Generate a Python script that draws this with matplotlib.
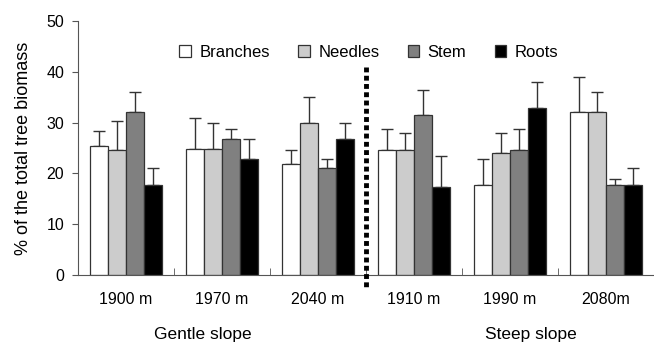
import numpy as np
import matplotlib
matplotlib.use("Agg")
import matplotlib.pyplot as plt

plt.rcParams['font.family'] = ['Liberation Sans', 'DejaVu Sans']

# Data
sites = ['1900 m', '1970 m', '2040 m', '1910 m', '1990 m', '2080m']
components = ['Branches', 'Needles', 'Stem', 'Roots']
colors = ['white', '#cccccc', '#808080', 'black']

branches = [25.4, 24.9, 21.8, 24.7, 17.7, 32.0]
needles = [24.6, 24.9, 29.9, 24.7, 24.0, 32.0]
stem = [32.1, 26.8, 21.0, 31.5, 24.7, 17.7]
roots = [17.7, 22.9, 26.8, 17.3, 32.8, 17.7]

branches_err = [2.9, 6.1, 2.9, 4.0, 5.2, 7.0]
needles_err = [5.7, 5.1, 5.1, 3.3, 4.0, 4.1]
stem_err = [3.9, 1.9, 1.9, 5.0, 4.0, 1.1]
roots_err = [3.3, 3.9, 3.1, 6.1, 5.1, 3.3]

values = [branches, needles, stem, roots]
errors = [branches_err, needles_err, stem_err, roots_err]

fig = plt.figure(figsize=(6.54, 3.46), dpi=100)
ax = fig.add_axes([78 / 654, 1 - 275 / 346, 1 - 78 / 654, (275 - 21) / 346])

x = np.arange(len(sites))
width = 0.187
for i, (vals, errs) in enumerate(zip(values, errors)):
    pos = x + (i - 1.5) * width
    ax.bar(pos, vals, width, color=colors[i], edgecolor='#333333',
           linewidth=0.9, label=components[i], zorder=2)
    ax.errorbar(pos, vals, yerr=[np.zeros(len(errs)), errs], fmt='none',
                ecolor='#333333', elinewidth=1.0, capsize=4, capthick=1.0,
                zorder=1)

ax.set_xlim(-0.5, 5.5)
ax.set_ylim(0, 50)
ax.set_yticks(range(0, 51, 10))
ax.set_xticks(x)
ax.set_xticklabels(sites, fontsize=11.5)
ax.tick_params(axis='x', length=0, pad=12)
ax.tick_params(axis='y', direction='out', length=4, labelsize=11.5,
               color='#555555', pad=6)
ax.set_xticks(np.arange(0.5, 5, 1), minor=True)
ax.tick_params(axis='x', which='minor', direction='in', length=5,
               color='#555555')
ax.spines['top'].set_visible(False)
ax.spines['right'].set_visible(False)
ax.spines['left'].set_color('#555555')
ax.spines['bottom'].set_color('#555555')
ax.set_ylabel('% of the total tree biomass', fontsize=13, labelpad=10)

# separator between the two slopes
ax.plot([2.5, 2.5], [41, -3], color='black', linewidth=3.5,
        linestyle=(0, (1, 0.7)), clip_on=False, zorder=3)

ax.legend(loc='upper center', bbox_to_anchor=(0.505, 0.965), ncol=4,
          frameon=False, fontsize=12, handlelength=0.7, handleheight=0.7,
          columnspacing=1.7, handletextpad=0.5)

fig.text(203 / 654, 1 - 335 / 346, 'Gentle slope', ha='center', va='center',
         fontsize=12.5)
fig.text(531 / 654, 1 - 335 / 346, 'Steep slope', ha='center', va='center',
         fontsize=12.5)

fig.savefig('out.png', dpi=100)
